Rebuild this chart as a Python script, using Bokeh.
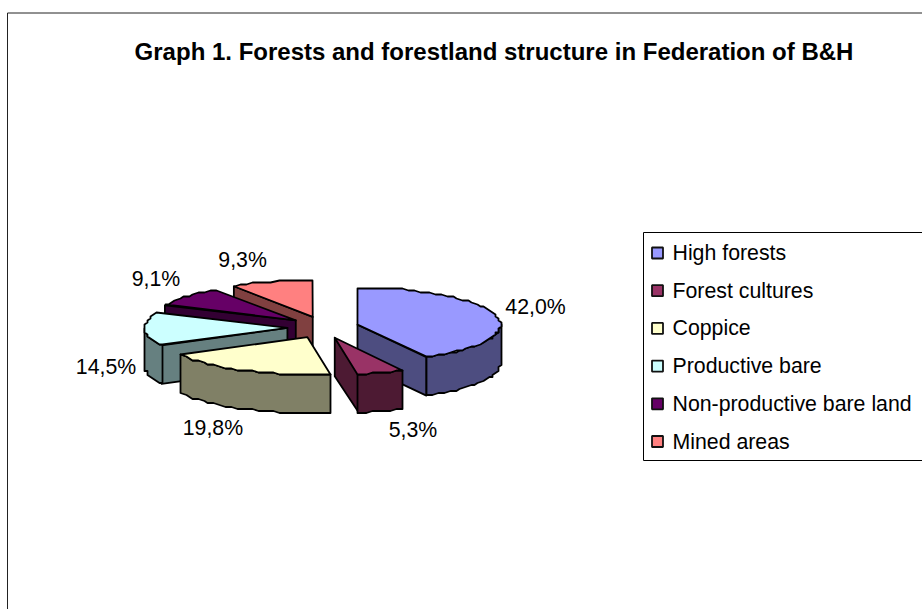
import numpy as np
from bokeh.plotting import figure
from bokeh.models import Range1d
from bokeh.core.properties import value
from bokeh.embed import file_html
from bokeh.resources import INLINE

# ---- data ----
title_text = "Graph 1. Forests and forestland structure in Federation of B&H"
categories = ["High forests", "Forest cultures", "Coppice", "Productive bare",
              "Non-productive bare land", "Mined areas"]
shares = [42.0, 5.3, 19.8, 14.5, 9.1, 9.3]
share_labels = ["42,0%", "5,3%", "19,8%", "14,5%", "9,1%", "9,3%"]
top_colors = ["#9999FF", "#993366", "#FFFFCC", "#CCFFFF", "#660066", "#FF8080"]
side_colors = ["#4D4D80", "#4D1A33", "#808066", "#668080", "#330033", "#804040"]

# ---- layout / style ----
W, H = 922, 609
CX, CY = 322.5, 326.9      # pie centre
A, B = 143.0, 37.0         # ellipse radii
EX, EY = 35.6, 10.9        # explosion
DEPTH = 38.5
QX, QY = 3.0, 2.0          # coarse coordinate grid of the rim
STEP = 3.0                 # degrees between rim samples
FONT = "Liberation Sans"
FS = "21.3px"
LW = 1.8
paint_order = [5, 4, 3, 2, 0, 1]
label_offsets = [(39.5, -8.8), (31, 57), (-32, 57.8), (-38.5, 38), (-30.5, -18), (-29, -21.6)]

p = figure(width=W, height=H, x_range=Range1d(0, W), y_range=Range1d(H, 0),
           output_backend="svg", toolbar_location=None, min_border=0,
           margin=(0, 0, 0, 0))
p.axis.visible = False
p.grid.visible = False
p.outline_line_color = None
p.background_fill_color = "white"

# outer chart frame runs off the window at right and bottom
p.patch([7, W + 10, W + 10, 7], [12.5, 12.5, H + 10, H + 10], fill_color="white",
        line_color="#222222", line_width=1)

fr = np.array(shares) / sum(shares) * 360
ends = np.cumsum(fr)
starts = ends - fr


def rim(t, ax, ay, jag=True):
    t = np.radians(np.asarray(t, float))
    x = ax + A * np.sin(t)
    y = ay - B * np.cos(t)
    if jag:
        x = np.round(x / QX) * QX
        y = np.round(y / QY) * QY
    return x, y


def sweep(t0, t1):
    n = max(int(np.ceil((t1 - t0) / STEP)), 1)
    return np.linspace(t0, t1, n + 1)


for i in paint_order:
    t0, t1 = starts[i], ends[i]
    mid = np.radians((t0 + t1) / 2)
    ax = CX + EX * np.sin(mid)
    ay = CY - EY * np.cos(mid)
    style = dict(line_color="black", line_width=LW, line_join="round")
    # radial faces
    for t, vis in ((t0, np.sin(np.radians(t0)) < 0), (t1, np.sin(np.radians(t1)) > 0)):
        if vis:
            rx, ry = rim([t], ax, ay, jag=False)
            p.patch([ax, rx[0], rx[0], ax], [ay, ry[0], ry[0] + DEPTH, ay + DEPTH],
                    fill_color=side_colors[i], **style)
    # outer wall, front half only
    w0, w1 = max(t0, 90.0), min(t1, 270.0)
    if w1 > w0:
        wt = sweep(w0, w1)
        x, y = rim(wt, ax, ay)
        p.patch(np.r_[x, x[::-1]], np.r_[y, y[::-1] + DEPTH],
                fill_color=side_colors[i], **style)
    # top face
    x, y = rim(sweep(t0, t1), ax, ay)
    p.patch(np.r_[ax, x], np.r_[ay, y], fill_color=top_colors[i], **style)
    # value label
    rx, ry = rim([(t0 + t1) / 2], ax, ay, jag=False)
    dx, dy = label_offsets[i]
    p.text([rx[0]], [ry[0]], text=[share_labels[i]], x_offset=dx, y_offset=dy,
           text_align="center", text_baseline="middle", text_color="black",
           text_font=value(FONT), text_font_size=FS)

# title
p.text([493.5], [51], text=[title_text], text_align="center", text_baseline="middle",
       text_color="black", text_font=value(FONT), text_font_size="24px", text_font_style="bold")

# legend
LX0, LY0, LY1 = 643, 232, 460
p.patch([LX0, W + 10, W + 10, LX0], [LY0, LY0, LY1, LY1], fill_color="white",
        line_color="black", line_width=1)
for i, name in enumerate(categories):
    yc = 252.5 + 37.7 * i
    p.rect([657], [yc], width=11, height=11, fill_color=top_colors[i],
           line_color="#111111", line_width=1.8)
    p.text([672], [yc], text=[name], text_align="left", text_baseline="middle",
           text_color="black", text_font=value(FONT), text_font_size=FS)

open("out.html", "w").write(file_html(p, INLINE))
